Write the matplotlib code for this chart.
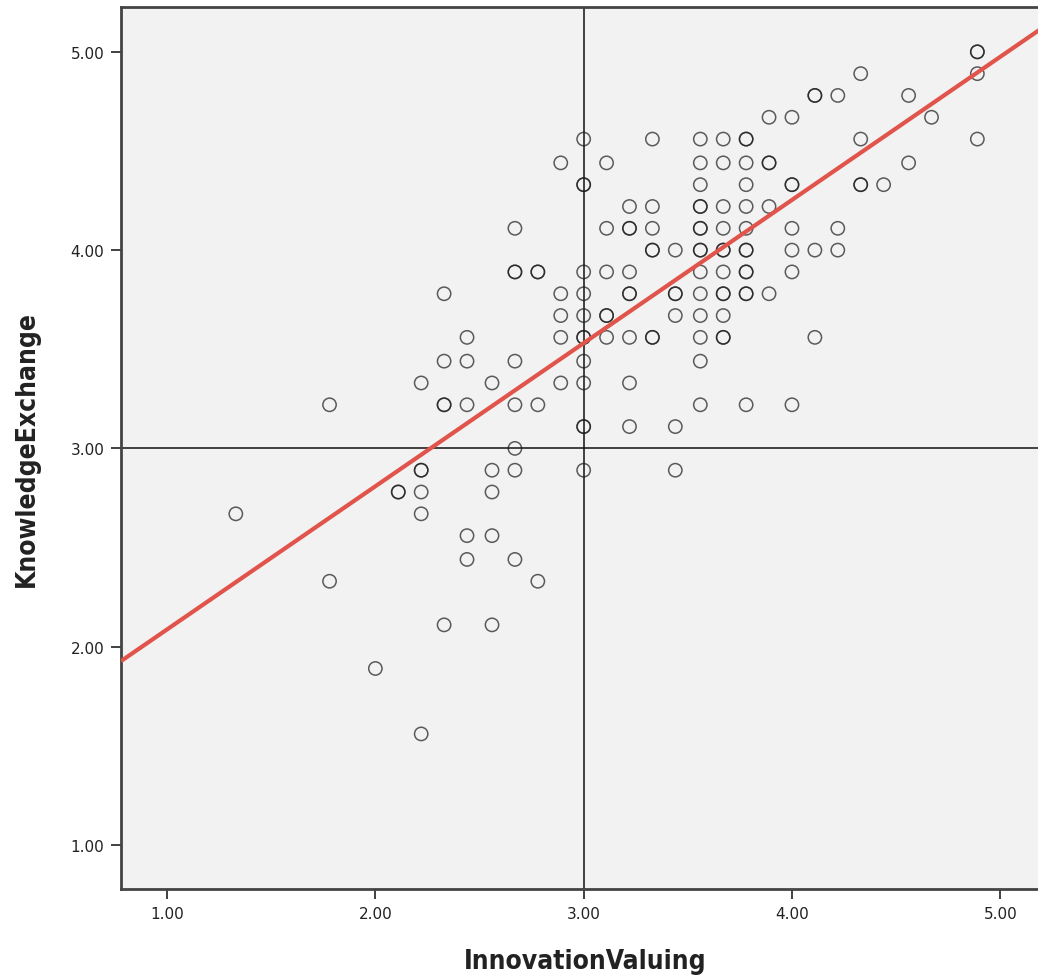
import matplotlib
matplotlib.use("Agg")
import matplotlib.pyplot as plt
import numpy as np

# InnovationValuing levels (x) and the KnowledgeExchange values seen at each level (y).
# Overplotted (darker) circles are listed twice.
innovation_levels = [1.33, 1.78, 2.00, 2.11, 2.22, 2.33, 2.44, 2.56, 2.67, 2.78,
                     2.89, 3.00, 3.11, 3.22, 3.33, 3.44, 3.56, 3.67, 3.78, 3.89,
                     4.00, 4.11, 4.22, 4.33, 4.44, 4.56, 4.67, 4.89]
knowledge_by_level = [
    [2.67],
    [3.22, 2.33],
    [1.89],
    [2.78, 2.78],
    [3.33, 2.89, 2.89, 2.78, 2.67, 1.56],
    [3.78, 3.44, 3.22, 3.22, 2.11],
    [3.56, 3.44, 3.22, 2.56, 2.44],
    [3.33, 2.89, 2.78, 2.56, 2.11],
    [4.11, 3.89, 3.89, 3.44, 3.22, 3.00, 2.89, 2.44],
    [3.89, 3.89, 3.22, 2.33],
    [4.44, 3.78, 3.67, 3.56, 3.33],
    [4.56, 4.33, 4.33, 3.89, 3.78, 3.67, 3.56, 3.56, 3.44, 3.33, 3.11, 3.11, 2.89],
    [4.44, 4.11, 3.89, 3.67, 3.67, 3.56],
    [4.22, 4.11, 4.11, 3.89, 3.78, 3.78, 3.56, 3.33, 3.11],
    [4.56, 4.22, 4.11, 4.00, 4.00, 3.56, 3.56],
    [4.00, 3.78, 3.78, 3.67, 3.11, 2.89],
    [4.56, 4.44, 4.33, 4.22, 4.22, 4.11, 4.11, 4.00, 4.00, 3.89, 3.78, 3.67, 3.56, 3.44, 3.22],
    [4.56, 4.44, 4.22, 4.11, 4.00, 4.00, 3.89, 3.78, 3.78, 3.67, 3.56, 3.56],
    [4.56, 4.56, 4.44, 4.33, 4.22, 4.11, 4.00, 4.00, 3.89, 3.89, 3.78, 3.78, 3.22],
    [4.67, 4.44, 4.44, 4.22, 3.78],
    [4.67, 4.33, 4.33, 4.11, 4.00, 3.89, 3.22],
    [4.78, 4.78, 4.00, 3.56],
    [4.78, 4.11, 4.00],
    [4.89, 4.56, 4.33, 4.33],
    [4.33],
    [4.78, 4.44],
    [4.67],
    [5.00, 5.00, 4.89, 4.56],
]

# fit line
fit_intercept = 1.365
fit_slope = 0.722

ticks = [1.0, 2.0, 3.0, 4.0, 5.0]
tick_labels = ["1.00", "2.00", "3.00", "4.00", "5.00"]
ref_x = 3.0
ref_y = 3.0

xs = [x for x, ys in zip(innovation_levels, knowledge_by_level) for _ in ys]
ys = [y for ys_ in knowledge_by_level for y in ys_]

fig = plt.figure(figsize=(10.38, 9.78), dpi=100)
# right edge runs past the figure, as in the original export
ax = fig.add_axes([0.1166, 0.090, 0.895, 0.902])
ax.set_facecolor("#f2f2f2")

xlim = (0.779, 5.239)
ylim = (0.778, 5.227)

ax.axvline(ref_x, color="#111111", lw=1.1, zorder=1)
ax.axhline(ref_y, color="#111111", lw=1.1, zorder=1)

ax.scatter(xs, ys, s=92, facecolors="none", edgecolors="#1a1a1a",
           linewidths=1.1, alpha=0.7, zorder=3)

line_x = np.array(xlim)
ax.plot(line_x, fit_intercept + fit_slope * line_x, color="#e0544b", lw=3, zorder=4,
        solid_capstyle="butt")

ax.set_xlim(*xlim)
ax.set_ylim(*ylim)
ax.set_xticks(ticks)
ax.set_xticklabels(tick_labels)
ax.set_yticks(ticks)
ax.set_yticklabels(tick_labels)
ax.tick_params(direction="out", length=7, width=1.3, color="#333333",
               labelsize=11, labelcolor="#222222", pad=5)

for side in ["left", "bottom", "top", "right"]:
    ax.spines[side].set_color("#444444")
    ax.spines[side].set_linewidth(2.0)

label_font = dict(family="DejaVu Sans", stretch="condensed", fontsize=19,
                  fontweight="bold", color="#222222")
ax.set_xlabel("InnovationValuing", labelpad=20, **label_font)
ax.set_ylabel("KnowledgeExchange", labelpad=22, **label_font)

fig.savefig("out.png", dpi=100, facecolor="white")
